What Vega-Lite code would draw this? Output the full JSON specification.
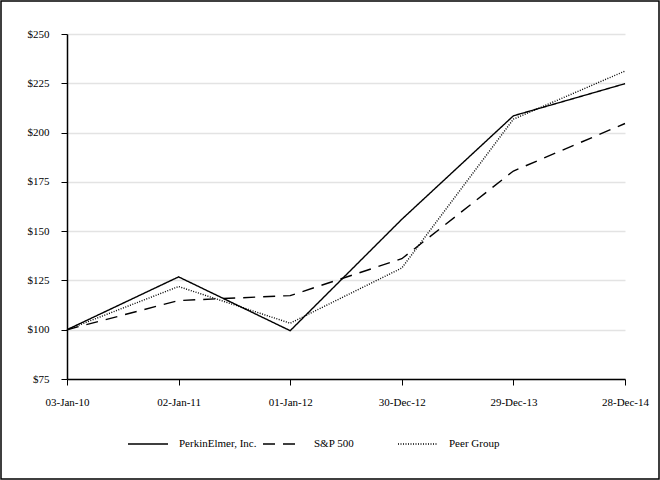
{
  "$schema": "https://vega.github.io/schema/vega-lite/v6.json",
  "width": 658,
  "height": 478,
  "padding": 1,
  "autosize": "none",
  "background": "white",
  "config": {
    "font": "Liberation Serif",
    "view": {"stroke": "black", "strokeWidth": 1.5},
    "axis": {
      "labelFont": "Liberation Serif",
      "labelFontSize": 11,
      "labelColor": "black",
      "domainColor": "black",
      "domainWidth": 1.5,
      "tickColor": "black",
      "tickSize": 6,
      "title": null
    },
    "legend": {
      "labelFont": "Liberation Serif",
      "labelFontSize": 11,
      "labelColor": "black"
    }
  },
  "data": {
    "values": [
      {"date": "03-Jan-10", "series": "PerkinElmer, Inc.", "value": 100},
      {"date": "02-Jan-11", "series": "PerkinElmer, Inc.", "value": 126.8},
      {"date": "01-Jan-12", "series": "PerkinElmer, Inc.", "value": 99.5},
      {"date": "30-Dec-12", "series": "PerkinElmer, Inc.", "value": 156},
      {"date": "29-Dec-13", "series": "PerkinElmer, Inc.", "value": 208.5},
      {"date": "28-Dec-14", "series": "PerkinElmer, Inc.", "value": 224.8},
      {"date": "03-Jan-10", "series": "S&P 500", "value": 100},
      {"date": "02-Jan-11", "series": "S&P 500", "value": 114.8},
      {"date": "01-Jan-12", "series": "S&P 500", "value": 117.3},
      {"date": "30-Dec-12", "series": "S&P 500", "value": 136},
      {"date": "29-Dec-13", "series": "S&P 500", "value": 180.5},
      {"date": "28-Dec-14", "series": "S&P 500", "value": 204.6},
      {"date": "03-Jan-10", "series": "Peer Group", "value": 100},
      {"date": "02-Jan-11", "series": "Peer Group", "value": 121.9},
      {"date": "01-Jan-12", "series": "Peer Group", "value": 103.3},
      {"date": "30-Dec-12", "series": "Peer Group", "value": 131.3},
      {"date": "29-Dec-13", "series": "Peer Group", "value": 206.8},
      {"date": "28-Dec-14", "series": "Peer Group", "value": 231.2}
    ]
  },
  "mark": {"type": "line", "color": "black", "strokeWidth": 1.4},
  "encoding": {
    "x": {
      "field": "date",
      "type": "ordinal",
      "sort": null,
      "scale": {"type": "point", "padding": 0, "range": [66, 624]},
      "axis": {
        "labelAngle": 0,
        "labelPadding": 11,
        "offset": -100,
        "grid": false
      }
    },
    "y": {
      "field": "value",
      "type": "quantitative",
      "scale": {"domain": [75, 250], "range": [378, 33], "nice": false, "zero": false},
      "axis": {
        "values": [75, 100, 125, 150, 175, 200, 225, 250],
        "format": "$.0f",
        "labelPadding": 12,
        "offset": -66,
        "grid": true,
        "gridColor": "#e3e3e3",
        "gridWidth": 1.5
      }
    },
    "strokeDash": {
      "field": "series",
      "type": "nominal",
      "scale": {
        "domain": ["PerkinElmer, Inc.", "S&P 500", "Peer Group"],
        "range": [[1, 0], [12, 8], [1, 1.5]]
      },
      "legend": {
        "title": null,
        "orient": "none",
        "direction": "horizontal",
        "legendX": 126,
        "legendY": 422,
        "columns": 3,
        "gridAlign": "all",
        "columnPadding": 3,
        "symbolType": "stroke",
        "symbolSize": 1600,
        "symbolStrokeColor": "black",
        "symbolStrokeWidth": 1.4,
        "labelOffset": 10
      }
    }
  }
}
